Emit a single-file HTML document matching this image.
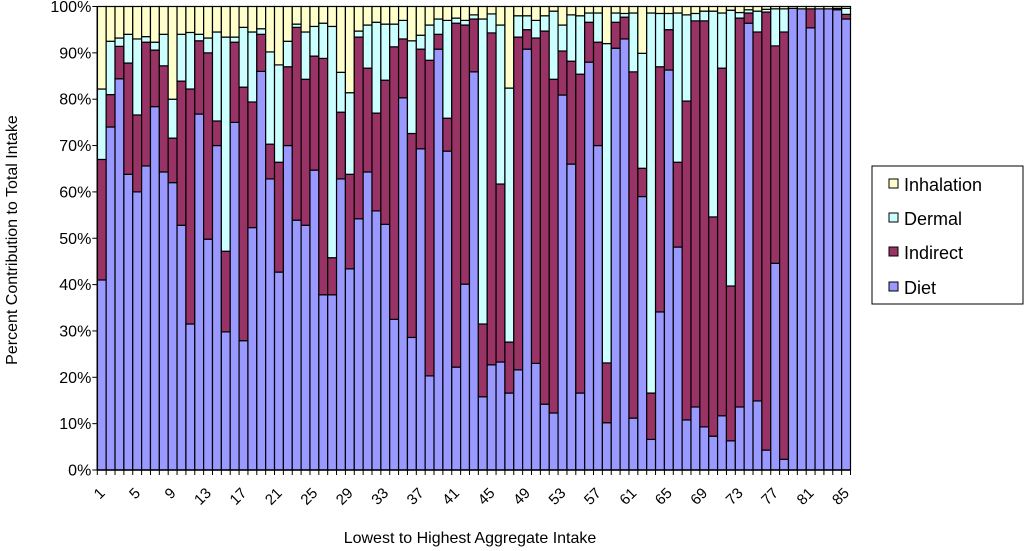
<!DOCTYPE html>
<html><head><meta charset="utf-8"><style>
html,body{margin:0;padding:0;background:#fff;}
svg{display:block;font-family:"Liberation Sans",Arial,sans-serif;}
</style></head><body>
<svg id="chart" width="1024" height="551" viewBox="0 0 1024 551" xmlns="http://www.w3.org/2000/svg">
<g id="plot"></g>
<g id="axes"></g>
<text transform="translate(17,240) rotate(-90)" text-anchor="middle" font-size="16" fill="#000">Percent Contribution to Total Intake</text>
<text x="470" y="543" text-anchor="middle" font-size="16" fill="#000">Lowest to Highest Aggregate Intake</text>
<g>
<rect x="872" y="166" width="151" height="138" fill="#fff" stroke="#000" stroke-width="1"/>
<g><rect x="889" y="179" width="9" height="9" fill="#ffffcc" stroke="#000"/><text x="904" y="191" font-size="18">Inhalation</text></g>
<g><rect x="889" y="213" width="9" height="9" fill="#ccffff" stroke="#000"/><text x="904" y="225" font-size="18">Dermal</text></g>
<g><rect x="889" y="247" width="9" height="9" fill="#993366" stroke="#000"/><text x="904" y="259" font-size="18">Indirect</text></g>
<g><rect x="889" y="282" width="9" height="9" fill="#9999ff" stroke="#000"/><text x="904" y="294" font-size="18">Diet</text></g>
</g>
</svg>
<script>
// Diet share (%)
const diet = [41,74,84.4,63.8,60,65.6,78.4,64.3,62,52.8,31.5,76.8,49.8,70,29.8,75,27.9,52.3,86,62.8,42.7,70,53.9,52.8,64.7,37.8,37.8,62.8,43.4,54.2,64.3,55.9,53,32.5,80.3,28.6,69.3,20.3,90.8,68.8,22.2,40.1,85.9,15.8,22.7,23.3,16.6,21.6,90.8,23,14.2,12.3,80.9,66,16.6,88,70,10.2,91,93,11.2,59,6.6,34.1,86.3,48.1,10.8,13.6,9.3,7.3,11.7,6.3,13.6,96.4,14.9,4.3,44.6,2.3,99.6,99.5,95.4,99.5,99.5,99.3,97.3];
// Indirect share (%)
const indirect = [26,7,7,24,16.6,26.7,12.2,22.9,9.6,31.1,50.7,15.8,40.2,5.3,17.4,17.3,54.7,27.1,8,7.5,23.7,17,41.6,31.5,24.6,51,8,14.4,20.4,39.2,22.4,21.1,31.1,58.8,12.7,44,21.5,68.1,3.2,7.1,74.2,55.9,11.4,15.7,71.6,38.4,11,71.8,4.2,70.2,80.5,72,9.5,22.2,68.8,8.6,22.3,12.9,5.6,4.7,74.7,6.1,10,52.9,8.7,18.3,68.8,83.3,87.6,47.3,75,33.4,83.9,2.2,79.6,94.5,46.9,92.2,0,0,4.1,0,0,0.3,1];
// Dermal share (%)
const dermal = [15.2,11.5,1.8,6.2,16.4,1.2,1.7,6.8,8.4,10.1,12.2,1.4,3.2,19.2,46.2,1.1,12.9,15.1,1.2,19.9,21,5.5,0.7,10.2,6.4,7.6,49.9,8.6,17.6,1.3,9.3,19.6,12.1,4.9,4,20,3,7.6,3.3,21.1,1.1,1,0.9,65.8,4.1,34.3,54.8,4.6,3,3.8,3.3,14.7,5.6,10,12.6,2,6.3,68.9,2,0.8,12.7,24.8,82,11.5,3.5,32.2,18.6,1.6,2.1,44.4,11.9,59.5,1.2,0.7,4.5,0.6,8,5,0,0,0,0,0,0,1.3];
// Inhalation share (%) = remainder
const inhalation = diet.map((d,i)=>Math.max(0,100-d-indirect[i]-dermal[i]));
const yTicks = [0,10,20,30,40,50,60,70,80,90,100];
const xLabels = [1,5,9,13,17,21,25,29,33,37,41,45,49,53,57,61,65,69,73,77,81,85];

const NS='http://www.w3.org/2000/svg';
const L=97.3,R=850.5,T=6.5,B=470;
const n=diet.length, bw=(R-L)/n;
const y=v=>B-(B-T)*v/100;
const xb=i=>L+bw*i;
const plot=document.getElementById('plot'), axes=document.getElementById('axes');
function mk(tag,attrs,parent){const e=document.createElementNS(NS,tag);for(const k in attrs)e.setAttribute(k,attrs[k]);parent.appendChild(e);return e;}
const series=[['diet',diet,'#9999ff'],['indirect',indirect,'#993366'],['dermal',dermal,'#ccffff'],['inhalation',inhalation,'#ffffcc']];
for(let i=0;i<n;i++){
  let base=0;
  for(const [name,arr,col] of series){
    const v=arr[i]; if(v<=0){continue;}
    const r=mk('rect',{x:xb(i),y:y(base+v),width:bw,height:y(base)-y(base+v),fill:col,stroke:'#000','stroke-width':1.2},plot);
    
    
    base+=v;
  }
}
// axes
const ax=mk('line',{x1:L,y1:T,x2:L,y2:B,stroke:'#000','stroke-width':1.5},axes);


const bx=mk('line',{x1:L,y1:B,x2:R,y2:B,stroke:'#000','stroke-width':1.5},axes);


mk('line',{x1:L,y1:T,x2:R,y2:T,stroke:'#000','stroke-width':1},axes);
for(const t of yTicks){
  mk('line',{x1:L-5,y1:y(t),x2:L,y2:y(t),stroke:'#000'},axes);
  const tx=mk('text',{x:L-6,y:y(t)+5.5,'text-anchor':'end','font-size':16,fill:'#000'},axes);
  tx.textContent=t+'%';
  
  
}
for(let i=0;i<=n;i++){mk('line',{x1:xb(i),y1:B,x2:xb(i),y2:B+5,stroke:'#000'},axes);}
for(const lab of xLabels){
  const cx=xb(lab-1)+bw/2+4, cy=B+24;
  const tx=mk('text',{x:cx,y:cy,'text-anchor':'end','font-size':15,fill:'#000',transform:`rotate(-45 ${cx} ${cy})`},axes);
  tx.textContent=lab;
  
  
}
</script>
</body></html>
